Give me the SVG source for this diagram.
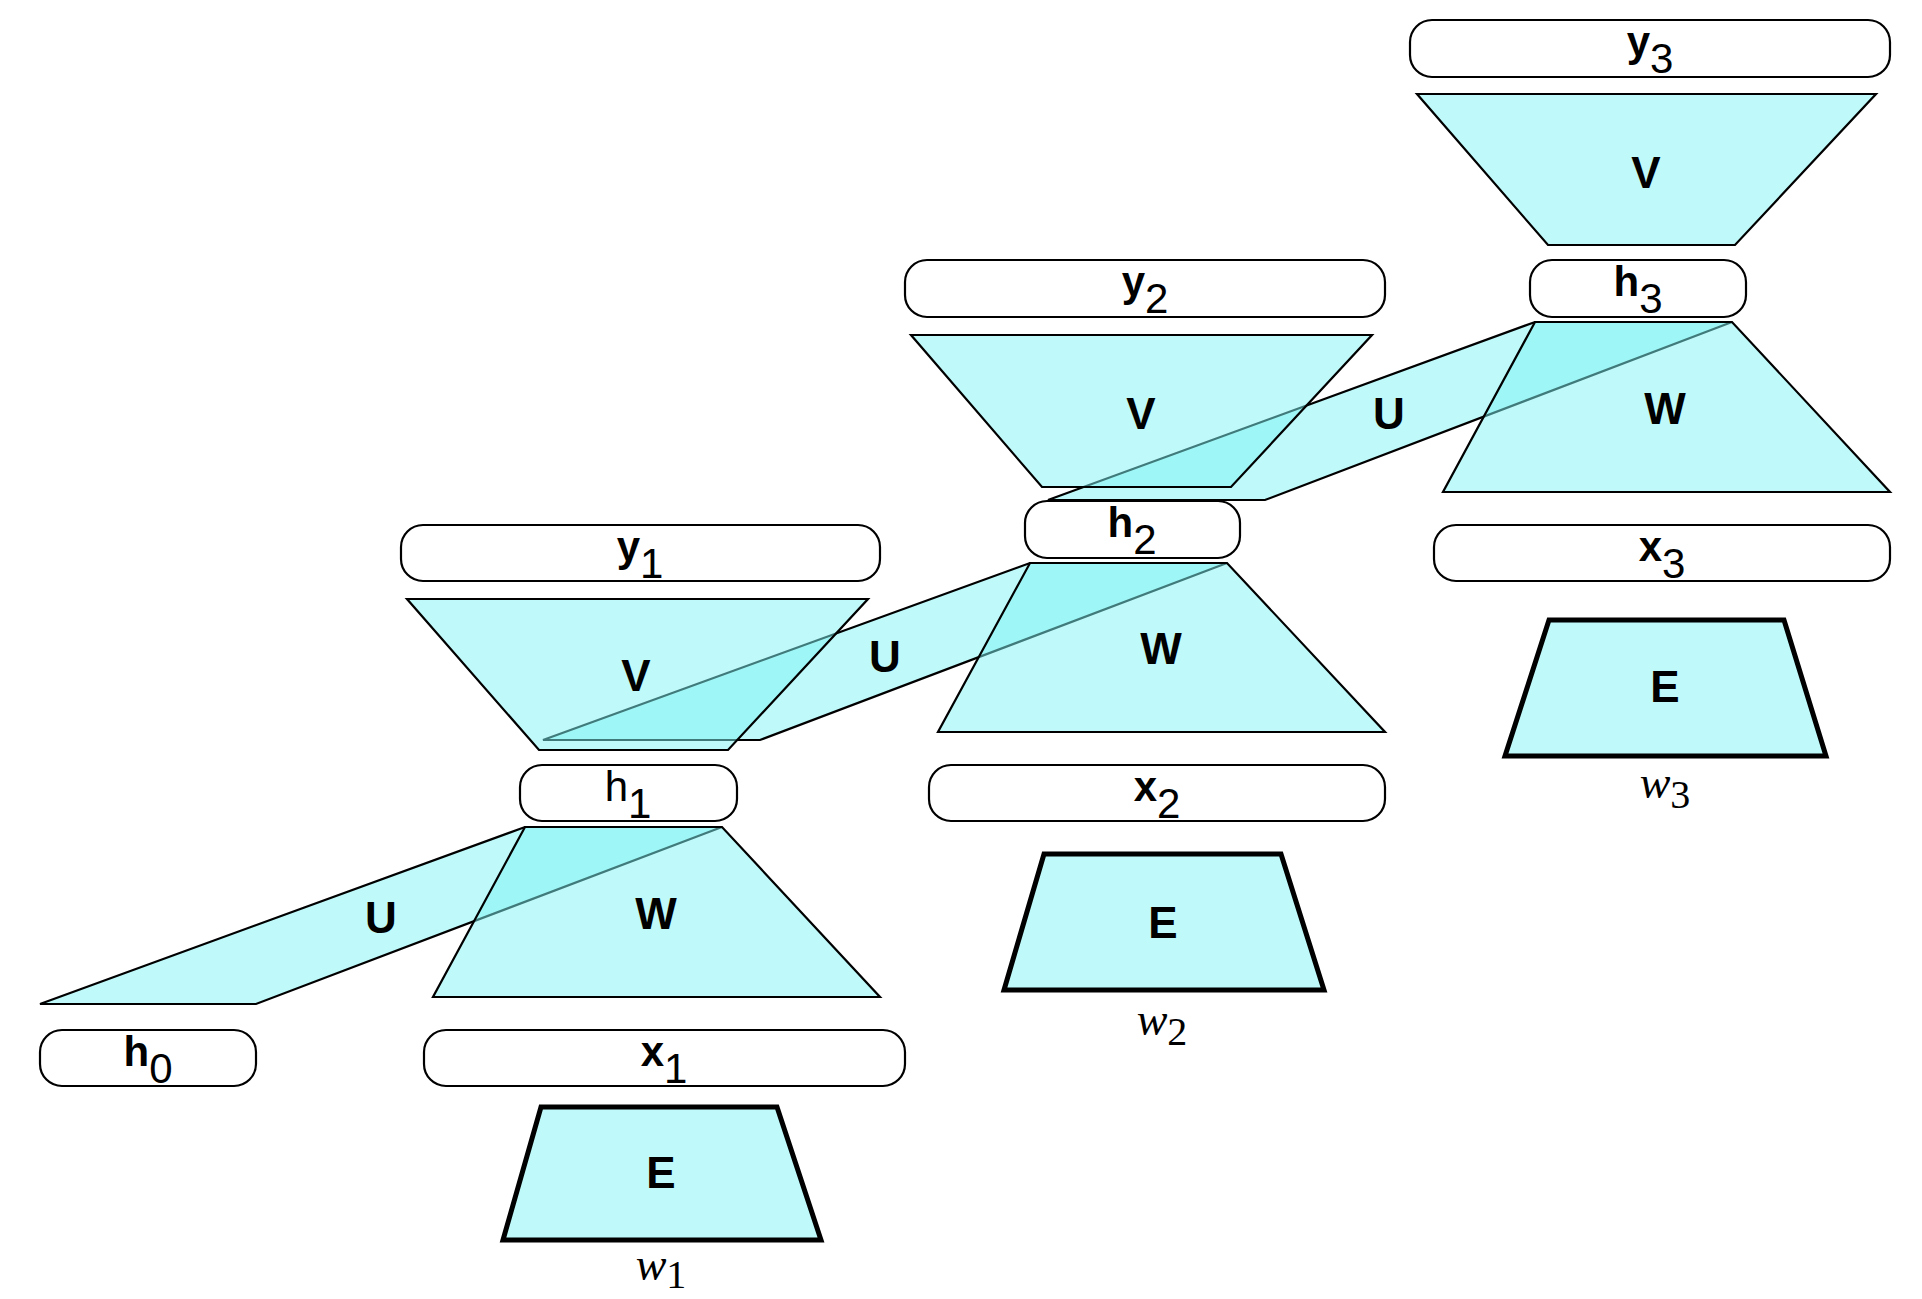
<svg xmlns="http://www.w3.org/2000/svg" width="1922" height="1299" viewBox="0 0 1922 1299">
<style>
.box{fill:#fff;stroke:#000;stroke-width:2.2}
.trap{fill:rgb(127,243,243);fill-opacity:0.5;stroke:#000;stroke-width:2.2;stroke-linejoin:miter}
.emb{fill:rgb(127,243,243);fill-opacity:0.5;stroke:#000;stroke-width:5}
.band{fill:rgb(127,243,243);fill-opacity:0.5;stroke:#000;stroke-width:2.2}
.lbl{font-family:"Liberation Sans",Arial,sans-serif;font-weight:bold;font-size:42px;text-anchor:middle;fill:#000}
.big{font-size:44px}
.sub{font-weight:normal;font-size:42px}
.reg{font-weight:normal}
.w{font-family:"Liberation Serif","Times New Roman",serif;font-style:italic;font-size:46px;text-anchor:middle;fill:#000}
.ws{font-style:normal;font-size:40px}
</style>
<rect width="1922" height="1299" fill="#fff"/>
<g id="connectors">
<g id="U1"><polygon class="band" points="40,1004 256,1004 722,827 525,827"/><text class="lbl big" x="381" y="933">U</text></g>
<g id="U2"><polygon class="band" points="543,740 760,740 1227,563 1030,563"/><text class="lbl big" x="885" y="672">U</text></g>
<g id="U3"><polygon class="band" points="1048,500 1265,500 1732,322 1535,322"/><text class="lbl big" x="1389" y="429">U</text></g>
</g>
<!-- timestep 1 -->
<g id="h0"><rect class="box" x="40" y="1030" width="216" height="56" rx="22"/><text class="lbl" x="148" y="1066">h<tspan class="sub" dy="17">0</tspan></text></g>
<g id="y1"><rect class="box" x="401" y="525" width="479" height="56" rx="22"/><text class="lbl" x="640" y="561">y<tspan class="sub" dy="17">1</tspan></text></g>
<g id="V1"><polygon class="trap" points="407,599 868,599 728,750 539,750"/><text class="lbl big" x="636" y="691">V</text></g>
<g id="h1"><rect class="box" x="520" y="765" width="217" height="56" rx="22"/><text class="lbl reg" x="628" y="801">h<tspan class="sub" dy="17">1</tspan></text></g>
<g id="W1"><polygon class="trap" points="525,827 722,827 880,997 433,997"/><text class="lbl big" x="656" y="929">W</text></g>
<g id="x1"><rect class="box" x="424" y="1030" width="481" height="56" rx="22"/><text class="lbl" x="664" y="1066">x<tspan class="sub" dy="17">1</tspan></text></g>
<g id="E1"><polygon class="emb" points="541,1107 777,1107 821,1240 503,1240"/><text class="lbl big" x="661" y="1188">E</text></g>
<g id="w1"><text class="w" x="661" y="1280">w<tspan class="ws" dy="8">1</tspan></text></g>
<!-- timestep 2 -->
<g id="y2"><rect class="box" x="905" y="260" width="480" height="57" rx="22"/><text class="lbl" x="1145" y="296">y<tspan class="sub" dy="17">2</tspan></text></g>
<g id="V2"><polygon class="trap" points="911,335 1372,335 1231,487 1042,487"/><text class="lbl big" x="1141" y="429">V</text></g>
<g id="h2"><rect class="box" x="1025" y="501" width="215" height="57" rx="22"/><text class="lbl" x="1132" y="537">h<tspan class="sub" dy="17">2</tspan></text></g>
<g id="W2"><polygon class="trap" points="1030,563 1227,563 1385,732 938,732"/><text class="lbl big" x="1161" y="664">W</text></g>
<g id="x2"><rect class="box" x="929" y="765" width="456" height="56" rx="22"/><text class="lbl" x="1157" y="801">x<tspan class="sub" dy="17">2</tspan></text></g>
<g id="E2"><polygon class="emb" points="1044,854 1281,854 1324,990 1004,990"/><text class="lbl big" x="1163" y="938">E</text></g>
<g id="w2"><text class="w" x="1162" y="1035">w<tspan class="ws" dy="10">2</tspan></text></g>
<!-- timestep 3 -->
<g id="y3"><rect class="box" x="1410" y="20" width="480" height="57" rx="22"/><text class="lbl" x="1650" y="56">y<tspan class="sub" dy="17">3</tspan></text></g>
<g id="V3"><polygon class="trap" points="1417,94 1876,94 1735,245 1548,245"/><text class="lbl big" x="1646" y="188">V</text></g>
<g id="h3"><rect class="box" x="1530" y="260" width="216" height="57" rx="22"/><text class="lbl" x="1638" y="296">h<tspan class="sub" dy="17">3</tspan></text></g>
<g id="W3"><polygon class="trap" points="1535,322 1732,322 1890,492 1443,492"/><text class="lbl big" x="1665" y="424">W</text></g>
<g id="x3"><rect class="box" x="1434" y="525" width="456" height="56" rx="22"/><text class="lbl" x="1662" y="561">x<tspan class="sub" dy="17">3</tspan></text></g>
<g id="E3"><polygon class="emb" points="1549,620 1784,620 1826,756 1505,756"/><text class="lbl big" x="1665" y="702">E</text></g>
<g id="w3"><text class="w" x="1665" y="798">w<tspan class="ws" dy="10">3</tspan></text></g>
</svg>
